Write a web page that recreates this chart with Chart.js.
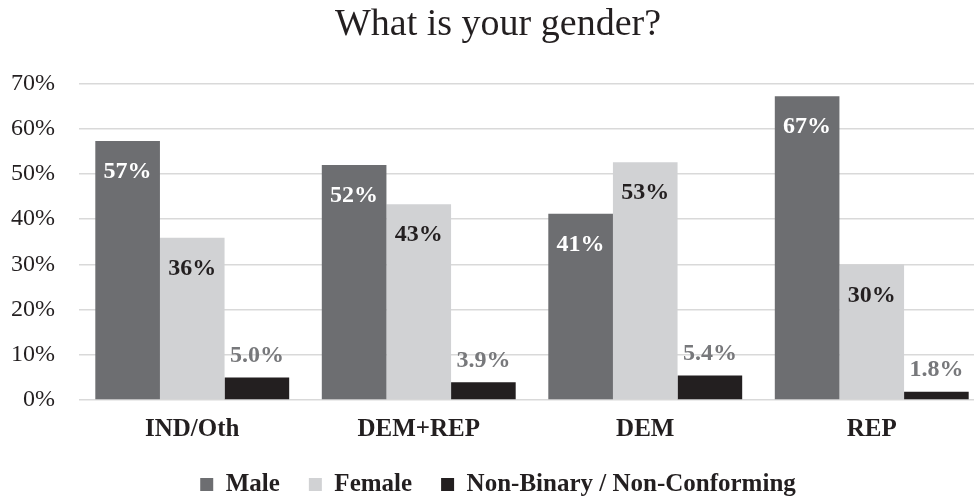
<!DOCTYPE html>
<html>
<head>
<meta charset="utf-8">
<script src="https://cdn.jsdelivr.net/npm/chart.js@4.4.0/dist/chart.umd.min.js"></script>
<style>
  body { margin: 0; background: #fff; overflow: hidden; }
  .wrap { width: 974px; height: 498px; overflow: hidden; }
</style>
</head>
<body>
<div class="wrap">
  <canvas id="myChart" width="1000" height="507"></canvas>
</div>
<script>
const categories = ["IND/Oth", "DEM+REP", "DEM", "REP"];
const male = [57.3, 52.0, 41.2, 67.2];
const female = [35.9, 43.3, 52.6, 30.0];
const nonBinary = [5.0, 3.9, 5.4, 1.8];
const seriesNames = ["Male", "Female", "Non-Binary / Non-Conforming"];
const yTicks = [0, 10, 20, 30, 40, 50, 60, 70];

const serif = "'Liberation Serif', 'Times New Roman', serif";
const ink = "#231f20";

// value labels: first two series inside the bar top, the last one above it
const barLabels = {
  id: "barLabels",
  afterDatasetsDraw(chart) {
    const ctx = chart.ctx;
    ctx.save();
    ctx.font = "bold 24px " + serif;
    ctx.textAlign = "center";
    ctx.textBaseline = "middle";
    chart.data.datasets.forEach((ds, i) => {
      const meta = chart.getDatasetMeta(i);
      meta.data.forEach((bar, j) => {
        const v = ds.data[j];
        let txt, y;
        if (i == 2) {
          txt = v.toFixed(1) + "%";
          y = bar.y - 22;
          ctx.fillStyle = "#77787b";
        } else {
          txt = Math.round(v) + "%";
          y = bar.y + 31;
          ctx.fillStyle = i == 0 ? "#ffffff" : ink;
        }
        ctx.fillText(txt, bar.x, y);
      });
    });
    ctx.restore();
  },
};

new Chart(document.getElementById("myChart").getContext("2d"), {
  type: "bar",
  data: {
    labels: categories,
    datasets: [
      { label: seriesNames[0], data: male, backgroundColor: "#6d6e71" },
      { label: seriesNames[1], data: female, backgroundColor: "#d1d2d4" },
      { label: seriesNames[2], data: nonBinary, backgroundColor: "#231f20" },
    ],
  },
  options: {
    responsive: false,
    animation: false,
    layout: { padding: { left: 11, right: 15, top: 0, bottom: 0 } },
    datasets: {
      bar: { categoryPercentage: 0.856, barPercentage: 1.0 },
    },
    plugins: {
      title: {
        display: true,
        text: "What is your gender?",
        color: ink,
        font: { family: serif, size: 38, weight: "normal" },
        padding: { top: 2, bottom: 36 },
      },
      legend: {
        position: "bottom",
        labels: {
          color: ink,
          font: { family: serif, size: 25, weight: "bold" },
          boxWidth: 13,
          boxHeight: 13,
          padding: 29,
        },
      },
      tooltip: { enabled: false },
    },
    scales: {
      x: {
        grid: { display: false },
        border: { display: false },
        afterFit: (axis) => {
          axis.height -= 9;
        },
        ticks: {
          color: ink,
          padding: 7,
          font: { family: serif, size: 25, weight: "bold" },
        },
      },
      y: {
        min: 0,
        max: 70,
        afterBuildTicks: (axis) => {
          axis.ticks = yTicks.map((v) => ({ value: v }));
        },
        afterFit: (axis) => {
          axis.width = 68;
        },
        grid: { color: "#d9d9d9", lineWidth: 1.5, drawTicks: false },
        border: { display: false },
        ticks: {
          color: ink,
          padding: 24,
          font: { family: serif, size: 24 },
          callback: (v) => v + "%",
        },
      },
    },
  },
  plugins: [barLabels],
});
</script>
</body>
</html>
